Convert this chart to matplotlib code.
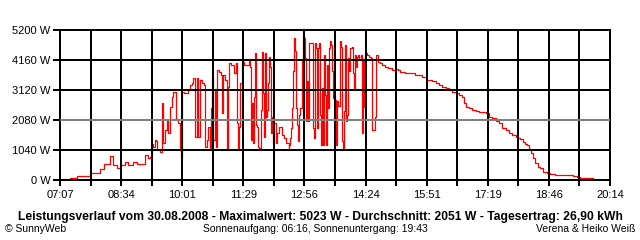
import matplotlib
matplotlib.use('Agg')
import matplotlib.pyplot as plt

# ---- data (minutes since midnight, watts) ----
minutes = [430, 433, 435, 441, 448, 451, 467, 470, 483, 484, 489, 490, 496, 499, 503, 509, 513, 517,
           520, 524, 530, 532, 534, 537, 542, 549, 553, 556, 559, 560, 563, 564, 566, 567, 570,
           573, 574, 577, 580, 582, 584, 587, 589, 592, 593, 596, 599, 600, 602, 604, 607, 610,
           613, 616, 618, 620, 623, 624, 627, 630, 633, 634, 637, 639, 642, 643, 645, 646, 649,
           650, 652, 655, 657, 659, 660, 663, 666, 668, 669, 672, 675, 676, 679, 680, 682, 683,
           685, 688, 691, 693, 696, 698, 699, 700, 702, 703, 705, 706, 708, 709, 711, 712, 714,
           715, 716, 718, 719, 721, 722, 723, 725, 726, 728, 729, 731, 732, 733, 736, 738, 741,
           745, 748, 751, 754, 755, 756, 758, 759, 761, 762, 763, 765, 766, 768, 769, 771, 773,
           775, 776, 778, 779, 781, 782, 783, 786, 788, 789, 791, 792, 793, 795, 796, 798, 799,
           800, 802, 803, 805, 806, 808, 809, 811, 812, 813, 815, 816, 818, 819, 821, 822, 823,
           825, 828, 829, 831, 832, 833, 835, 836, 838, 839, 841, 842, 845, 846, 848, 849, 851,
           852, 853, 855, 858, 859, 861, 862, 863, 866, 869, 872, 873, 876, 878, 879, 882, 885,
           888, 891, 892, 897, 899, 902, 905, 908, 911, 914, 918, 921, 925, 929, 935, 941, 945,
           951, 959, 965, 969, 974, 979, 984, 988, 994, 998, 1002, 1005, 1008, 1012, 1016, 1022,
           1026, 1031, 1036, 1041, 1045, 1051, 1055, 1059, 1065, 1069, 1074, 1079, 1082, 1085,
           1089, 1092, 1095, 1098, 1101, 1104, 1107, 1111, 1114, 1118, 1124, 1128, 1135, 1157,
           1161, 1167, 1171, 1190]
watts = [45, 45, 10, 80, 80, 140, 140, 230, 230, 390, 390, 550, 550, 830, 520, 415, 520, 520,
         620, 520, 520, 620, 620, 550, 550, 870, 760, 810, 1250, 1150, 1390, 1350, 1040, 1040, 980,
         2670, 1280, 1730, 2080, 1630, 2540, 2890, 3060, 3060, 2080, 1970, 1040, 760, 3060, 3010, 3010, 3120,
         3290, 3350, 3520, 1500, 3520, 1500, 3470, 3350, 3290, 1150, 1390, 1850, 1040, 2500, 3580, 1390, 3120,
         1150, 3810, 3760, 3640, 2320, 3640, 3470, 1040, 3240, 4040, 3990, 3990, 3700, 4040, 1970, 1040, 1850,
         3350, 4100, 3990, 3990, 3990, 4160, 3930, 1390, 2660, 1280, 2890, 4400, 1910, 1850, 1150, 1110, 1150,
         2430, 4450, 3010, 1500, 4400, 2200, 2430, 3350, 4270, 3930, 1630, 2200, 1280, 1970, 1280, 1630, 1850,
         1570, 1460, 1280, 1110, 1220, 1460, 1800, 2500, 3770, 4920, 4460, 2500, 1920, 1340, 2260, 2500, 4110,
         5023, 4920, 4230, 2040, 3420, 2040, 4750, 4750, 4750, 1800, 1460, 4750, 4570, 1800, 4570, 4750, 2260,
         1220, 3190, 1220, 4340, 2960, 1220, 4000, 2500, 4570, 4810, 4690, 3770, 2840, 2950, 2780, 1220, 2740,
         2580, 4810, 4620, 1350, 1110, 2390, 4690, 2040, 2260, 4230, 3770, 4570, 4620, 3700, 3180, 4330, 3930,
         4270, 4330, 4160, 4330, 1630, 4160, 2540, 4390, 4330, 4270, 4220, 1730, 1730, 2200, 4330, 4100, 4040,
         3990, 3990, 3930, 3900, 3870, 3810, 3810, 3840, 3810, 3760, 3760, 3700, 3700, 3700, 3640, 3640, 3580,
         3470, 3440, 3350, 3290, 3240, 3180, 3120, 3060, 3030, 2950, 2890, 2660, 2540, 2480, 2430, 2390,
         2370, 2370, 2310, 2200, 2150, 2060, 1970, 1790, 1730, 1640, 1560, 1500, 1440, 1410,
         1330, 1250, 1210, 1060, 920, 750, 580, 460, 400, 290, 230, 210, 170, 170,
         140, 115, 60, 60]

x_tick_minutes = [427, 514.4, 601.9, 689.3, 776.8, 864.2, 951.7, 1039.1, 1126.6, 1214]
x_tick_labels = ['07:07', '08:34', '10:01', '11:29', '12:56', '14:24', '15:51', '17:19', '18:46', '20:14']
y_ticks = [0, 1040, 2080, 3120, 4160, 5200]
y_tick_labels = ['0 W', '1040 W', '2080 W', '3120 W', '4160 W', '5200 W']
highlight_level = 2080

title = ('Leistungsverlauf vom 30.08.2008 - Maximalwert: 5023 W - Durchschnitt: 2051 W'
         ' - Tagesertrag: 26,90 kWh')
footer_left = '\u00a9 SunnyWeb'
footer_center = 'Sonnenaufgang: 06:16, Sonnenuntergang: 19:43'
footer_right = 'Verena & Heiko Wei\u00df'

plt.rcParams['font.family'] = ['Liberation Sans', 'DejaVu Sans']

W, H = 640, 240
fig = plt.figure(figsize=(W / 100, H / 100), dpi=100)
ax = fig.add_axes([60 / W, 60 / H, 550 / W, 150 / H])

ax.plot(minutes, watts, color='#ff0000', lw=0.9, zorder=1, drawstyle='steps-post')

ax.set_xlim(x_tick_minutes[0], x_tick_minutes[-1])
ax.set_ylim(y_ticks[0], y_ticks[-1])
minor = [(a + b) / 2 for a, b in zip(x_tick_minutes[:-1], x_tick_minutes[1:])]
ax.set_xticks(x_tick_minutes)
ax.set_xticklabels(x_tick_labels)
ax.set_xticks(minor, minor=True)
ax.set_yticks(y_ticks)
ax.set_yticklabels(y_tick_labels)

glw = 1.44
ax.set_axisbelow(False)
ax.grid(True, which='both', axis='x', color='black', lw=glw)
ax.grid(True, which='major', axis='y', color='black', lw=glw)
ax.axhline(highlight_level, color='#808080', lw=glw, zorder=3)
for s in ax.spines.values():
    s.set_color('black')
    s.set_linewidth(glw)
ax.tick_params(axis='x', which='both', length=4, width=glw, pad=3, labelsize=8)
ax.tick_params(axis='y', which='major', length=5, width=glw, pad=2, labelsize=8)

fy = 1 - 217 / H
fig.text(320.5 / W, fy, title, ha='center', va='center', fontsize=8.7, fontweight='bold')
fy2 = 1 - 229 / H
fig.text(5 / W, fy2, footer_left, ha='left', va='center', fontsize=7.5)
fig.text(315 / W, fy2, footer_center, ha='center', va='center', fontsize=7.5)
fig.text(635 / W, fy2, footer_right, ha='right', va='center', fontsize=7.5)

fig.savefig('out.png', dpi=100, facecolor='white')
